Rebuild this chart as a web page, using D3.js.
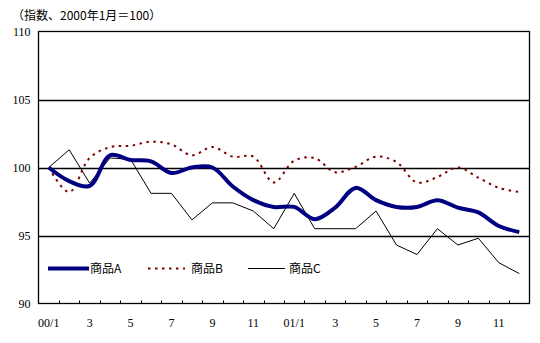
<!DOCTYPE html>
<html>
<head>
<meta charset="utf-8">
<script src="https://cdn.jsdelivr.net/npm/d3@7"></script>
<style>
  html, body { margin: 0; padding: 0; background: #fff; }
  svg { display: block; }
</style>
</head>
<body>
<svg id="chart" width="540" height="343"></svg>
<script>
// Monthly index values, Jan 2000 = 100
const months = ["00/1","2","3","4","5","6","7","8","9","10","11","12",
                "01/1","2","3","4","5","6","7","8","9","10","11","12"];
const seriesA = [100.0, 99.0, 98.65, 100.9, 100.55, 100.45, 99.6, 100.0, 100.0, 98.6, 97.6, 97.1,
                 97.1, 96.2, 97.05, 98.5, 97.6, 97.1, 97.1, 97.6, 97.05, 96.7, 95.7, 95.25];
const seriesB = [100.0, 98.2, 100.7, 101.5, 101.6, 101.9, 101.7, 100.9, 101.5, 100.8, 100.8, 98.9,
                 100.5, 100.7, 99.65, 100.05, 100.8, 100.4, 98.9, 99.3, 100.0, 99.25, 98.5, 98.2];
const seriesC = [100.0, 101.3, 98.85, 100.7, 100.6, 98.1, 98.1, 96.15, 97.4, 97.4, 96.8, 95.5,
                 98.1, 95.5, 95.5, 95.5, 96.8, 94.3, 93.6, 95.5, 94.3, 94.8, 93.0, 92.2];
const seriesNames = ["商品A", "商品B", "商品C"];
const yTicks = [90, 95, 100, 105, 110];
const xTickLabels = ["00/1","3","5","7","9","11","01/1","3","5","7","9","11"];
const unitNote = "（指数、2000年1月＝100）";

const svg = d3.select("#chart");
const plotLeft = 38.5, plotRight = 529.5, plotTop = 31.5, plotBottom = 303.5;

const x = d3.scaleBand().domain(d3.range(months.length)).range([plotLeft, plotRight]);
const y = d3.scaleLinear().domain([90, 110]).range([plotBottom, plotTop]);
const cx = i => x(i) + x.bandwidth() / 2;

// unit note
svg.append("text")
  .attr("x", 12).attr("y", 20)
  .attr("font-family", "'Noto Sans CJK JP', sans-serif")
  .attr("font-size", 12).attr("fill", "#000")
  .text(unitNote);

// horizontal gridlines
svg.append("g").selectAll("line")
  .data(yTicks.filter(t => t > 90 && t < 110))
  .join("line")
  .attr("x1", plotLeft).attr("x2", plotRight)
  .attr("y1", d => Math.round(y(d)) + 0.5).attr("y2", d => Math.round(y(d)) + 0.5)
  .attr("stroke", "#000").attr("stroke-width", 1.3);

// frame
svg.append("rect")
  .attr("x", plotLeft).attr("y", plotTop)
  .attr("width", plotRight - plotLeft).attr("height", plotBottom - plotTop)
  .attr("fill", "none").attr("stroke", "#000").attr("stroke-width", 1.3);

// y axis labels
const yAxis = d3.axisLeft(y).tickValues(yTicks).tickSize(0).tickPadding(8).tickFormat(d3.format("d"));
const gy = svg.append("g").attr("transform", `translate(${plotLeft},0)`).call(yAxis);
gy.select(".domain").remove();
gy.selectAll("text")
  .attr("font-family", "'Liberation Serif', serif")
  .attr("font-size", 12).attr("fill", "#000");

// x axis: inner ticks at category boundaries, labels every other month
const boundaries = d3.range(1, months.length);
svg.append("g").selectAll("line")
  .data(boundaries)
  .join("line")
  .attr("x1", d => Math.round(x(d)) + 0.5).attr("x2", d => Math.round(x(d)) + 0.5)
  .attr("y1", plotBottom).attr("y2", plotBottom - 3)
  .attr("stroke", "#000").attr("stroke-width", 1);

svg.append("g").selectAll("text")
  .data(xTickLabels)
  .join("text")
  .attr("x", (d, k) => cx(k * 2))
  .attr("y", 327)
  .attr("text-anchor", "middle")
  .attr("font-family", "'Liberation Serif', serif")
  .attr("font-size", 12).attr("fill", "#000")
  .text(d => d);

// series lines
const smooth = d3.line().x((d, i) => cx(i)).y(d => y(d)).curve(d3.curveCatmullRom.alpha(0.5));
const straight = d3.line().x((d, i) => cx(i)).y(d => y(d));

const styles = [
  { color: "#000080", width: 4, dash: null },
  { color: "#800000", width: 2, dash: "2.5,4.5" },
  { color: "#000000", width: 1, dash: null }
];

svg.append("path").datum(seriesC)
  .attr("d", straight).attr("fill", "none")
  .attr("stroke", styles[2].color).attr("stroke-width", styles[2].width);
svg.append("path").datum(seriesB)
  .attr("d", smooth).attr("fill", "none")
  .attr("stroke", styles[1].color).attr("stroke-width", styles[1].width)
  .attr("stroke-dasharray", styles[1].dash);
svg.append("path").datum(seriesA)
  .attr("d", smooth).attr("fill", "none")
  .attr("stroke", styles[0].color).attr("stroke-width", styles[0].width)
  .attr("stroke-linejoin", "round");

// legend
const legendX = [48, 148, 248];
const legend = svg.append("g").selectAll("g")
  .data(seriesNames)
  .join("g")
  .attr("transform", (d, i) => `translate(${legendX[i]},268.5)`);
legend.append("line")
  .attr("x1", 0).attr("x2", (d, i) => i === 0 ? 41 : 37)
  .attr("y1", 0).attr("y2", 0)
  .attr("stroke", (d, i) => styles[i].color)
  .attr("stroke-width", (d, i) => styles[i].width)
  .attr("stroke-dasharray", (d, i) => styles[i].dash);
legend.append("text")
  .attr("x", (d, i) => i === 0 ? 42 : (i === 1 ? 43 : 41))
  .attr("y", 4.5)
  .attr("font-family", "'Noto Sans CJK JP', sans-serif")
  .attr("font-size", 12).attr("fill", "#000")
  .text(d => d);
</script>
</body>
</html>
